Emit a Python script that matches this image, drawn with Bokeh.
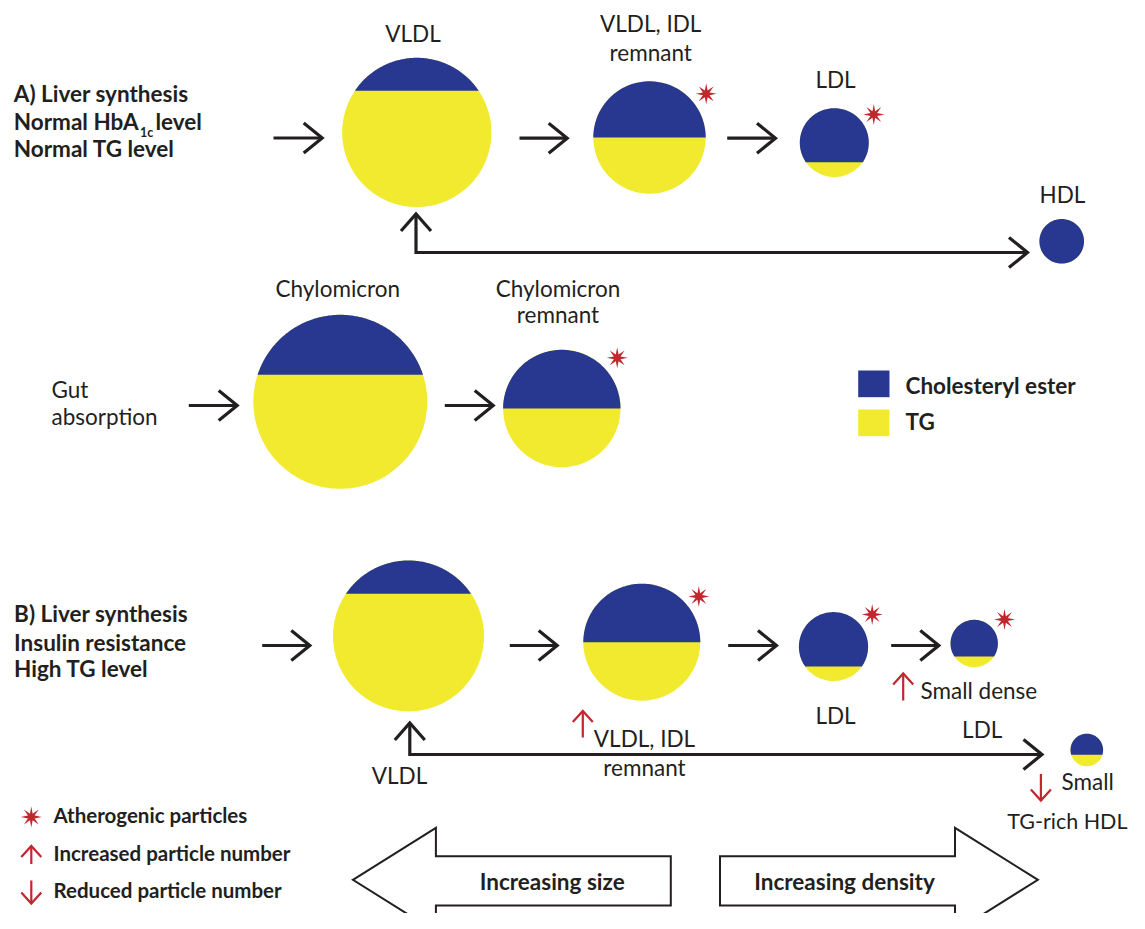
import numpy as np
from bokeh.plotting import figure
from bokeh.models import Range1d
from bokeh.core.properties import value
from bokeh.embed import file_html
from bokeh.resources import INLINE

# ---------------- data ----------------
particles = ["VLDL (A)", "VLDL, IDL remnant (A)", "LDL (A)", "HDL (A)",
             "Chylomicron", "Chylomicron remnant",
             "VLDL (B)", "VLDL, IDL remnant (B)", "LDL (B)", "Small dense LDL", "Small TG-rich HDL"]
radius = [74.7, 56.2, 34.5, 22.3, 87.0, 58.7, 75.5, 58.5, 34.6, 23.7, 16.3]
# level of the cholesteryl-ester / TG boundary, as fraction of radius below centre (-1 top, 1 bottom)
ce_level = [-0.56, 0.0, 0.565, 1.0, -0.31, 0.0, -0.56, 0.0, 0.57, 0.55, 0.29]
atherogenic = [False, True, True, False, False, True, False, True, True, True, False]

# ---------------- layout ----------------
cx = [416.3, 649.0, 833.8, 1061.2, 339.8, 561.3, 408.0, 641.3, 833.0, 973.7, 1086.3]
cy = [132.0, 137.0, 142.2, 240.8, 401.3, 408.0, 635.5, 641.7, 646.2, 643.0, 749.5]
star_dx = [0, 56.7, 39.5, 0, 0, 55.4, 0, 57.0, 38.7, 30.3, 0]
star_dy = [0, -43.7, -28.2, 0, 0, -50.7, 0, -45.7, -32.2, -24.0, 0]

BLUE = "#283891"
YELLOW = "#F2EA2E"
RED = "#C1272D"
INK = "#231F20"
FONT = "Lato"

p = figure(width=1129, height=913, output_backend="svg", toolbar_location=None,
           x_range=Range1d(0, 1129), y_range=Range1d(913, 0), min_border=0,
           background_fill_color="white", border_fill_color="white")
p.axis.visible = False
p.grid.visible = False
p.outline_line_color = None

# ---------------- particles ----------------
p.circle(x=cx, y=cy, radius=radius, fill_color=YELLOW, line_color=None)
caps_x, caps_y = [], []
for x0, y0, r, h in zip(cx, cy, radius, ce_level):
    t0 = np.arcsin(-h)
    t = np.linspace(t0, np.pi - t0, 120)
    caps_x.append(list(x0 + r * np.cos(t)))
    caps_y.append(list(y0 - r * np.sin(t)))
p.patches(caps_x, caps_y, fill_color=BLUE, line_color=None)


def star(x0, y0, ro=10.5, ri=3.6):
    a = np.pi / 2 + np.arange(16) * np.pi / 8
    rr = np.where(np.arange(16) % 2 == 0, ro, ri)
    return list(x0 + rr * np.cos(a)), list(y0 - rr * np.sin(a))


sx, sy = [], []
for x0, y0, a, dx, dy in zip(cx, cy, atherogenic, star_dx, star_dy):
    if a:
        xs, ys = star(x0 + dx, y0 + dy)
        sx.append(xs)
        sy.append(ys)
xs, ys = star(30.8, 816.5)
sx.append(xs)
sy.append(ys)
p.patches(sx, sy, fill_color=RED, line_color=None)

# ---------------- arrows ----------------
def head(tx, ty, dx, dy, L, W):
    n = np.hypot(dx, dy)
    ux, uy = dx / n, dy / n
    px, py = -uy, ux
    return ([tx - L * ux + W * px, tx, tx - L * ux - W * px],
            [ty - L * uy + W * py, ty, ty - L * uy - W * py])


flow = [(273.0, 137.5, 321.7), (519.0, 137.7, 566.7), (726.7, 137.7, 775.0),
        (188.3, 405.0, 236.7), (444.3, 405.0, 492.7),
        (261.7, 645.0, 309.3), (509.3, 645.0, 556.7), (727.7, 645.0, 776.0), (890.7, 645.0, 938.3)]
lx, ly = [], []
for x0, y0, x1 in flow:
    lx.append([x0, x1 - 1.5])
    ly.append([y0, y0])
    hx, hy = head(x1, y0, 1, 0, 18.5, 15)
    lx.append(hx)
    ly.append(hy)

returns = [[(415.5, 215.0), (415.5, 252.0), (1027.0, 252.0)],
           [(409.3, 724.0), (409.3, 754.0), (1041.5, 754.0)]]
for path in returns:
    lx.append([q[0] for q in path])
    ly.append([q[1] for q in path])
    hx, hy = head(path[0][0], path[0][1] - 1.5, 0, -1, 17, 15)
    lx.append(hx)
    ly.append(hy)
    hx, hy = head(path[-1][0], path[-1][1], 1, 0, 18.5, 15)
    lx.append(hx)
    ly.append(hy)
p.multi_line(lx, ly, line_color=INK, line_width=3.2, line_join="miter", line_cap="butt")

red_arrows = [(582.3, 737.0, 710.5), (902.7, 700.0, 673.0), (1040.4, 773.5, 800.0),
              (30.8, 863.5, 845.5), (30.8, 880.0, 903.0)]
rx, ry = [], []
for x0, y0, y1 in red_arrows:
    rx.append([x0, x0])
    ry.append([y0, y1])
    d = 1 if y1 > y0 else -1
    hx, hy = head(x0, y1, 0, d, 11, 10)
    rx.append(hx)
    ry.append(hy)
p.multi_line(rx, ry, line_color=RED, line_width=2.2, line_join="miter")

# big arrows
big_x = [[352.4, 435.4, 435.4, 670.3, 670.3, 435.4, 435.4],
         [719.5, 954.5, 954.5, 1037.4, 954.5, 954.5, 719.5]]
big_y = [[879.3, 827.3, 855.7, 855.7, 905.0, 905.0, 931.3],
         [855.7, 855.7, 827.3, 879.3, 931.3, 905.0, 905.0]]
p.patches(big_x, big_y, fill_color="white", line_color=INK, line_width=2, line_join="miter")

# legend squares
p.quad(left=[857.7, 857.7], right=[889.0, 889.0], top=[370.0, 409.0], bottom=[396.7, 435.7],
       fill_color=[BLUE, YELLOW], line_color=None)

# ---------------- text ----------------
def txt(x, y, s, size, bold=False, align="left", color=INK):
    p.text(x=[x], y=[y - 0.37 * size], text=[s], text_font=value(FONT), text_font_size=f"{size}px",
           text_font_style="bold" if bold else "normal", text_align=align,
           text_baseline="alphabetic", text_color=color)


H = 22.5
L = 22.5
txt(13.3, 101.7, "A) Liver synthesis", H, True)
txt(13.3, 129.3, "Normal HbA", H, True)
txt(139.5, 136.5, "1c", 12.5, True)
txt(155.0, 129.3, "level", H, True)
txt(13.3, 156.7, "Normal TG level", H, True)

txt(13.6, 621.7, "B) Liver synthesis", H, True)
txt(13.6, 650.0, "Insulin resistance", H, True)
txt(13.6, 676.7, "High TG level", H, True)

txt(412.5, 41.7, "VLDL", L, align="center")
txt(650.2, 31.7, "VLDL, IDL", L, align="center")
txt(650.2, 60.0, "remnant", L, align="center")
txt(835.0, 87.3, "LDL", L, align="center")
txt(1062.0, 202.7, "HDL", L, align="center")

txt(337.3, 296.7, "Chylomicron", L, align="center")
txt(557.5, 296.7, "Chylomicron", L, align="center")
txt(557.5, 322.7, "remnant", L, align="center")
txt(51.0, 397.5, "Gut", L)
txt(51.0, 424.5, "absorption", L)

txt(905.0, 393.3, "Cholesteryl ester", H, True)
txt(905.0, 429.3, "TG", H, True)

txt(399.0, 783.3, "VLDL", L, align="center")
txt(644.0, 746.7, "VLDL, IDL", L, align="center")
txt(644.0, 775.0, "remnant", L, align="center")
txt(835.0, 723.3, "LDL", L, align="center")
txt(920.0, 698.3, "Small dense", L)
txt(981.7, 737.3, "LDL", L, align="center")
txt(1061.0, 789.3, "Small", L)
txt(1127.0, 828.3, "TG-rich HDL", 21.5, align="right")

txt(53.0, 822.3, "Atherogenic particles", 20.5, True)
txt(53.0, 860.0, "Increased particle number", 20.5, True)
txt(53.0, 897.0, "Reduced particle number", 20.5, True)

txt(551.7, 889.5, "Increasing size", 22.5, True, align="center")
txt(844.0, 889.5, "Increasing density", 22.5, True, align="center")

open("out.html", "w").write(file_html(p, INLINE))
